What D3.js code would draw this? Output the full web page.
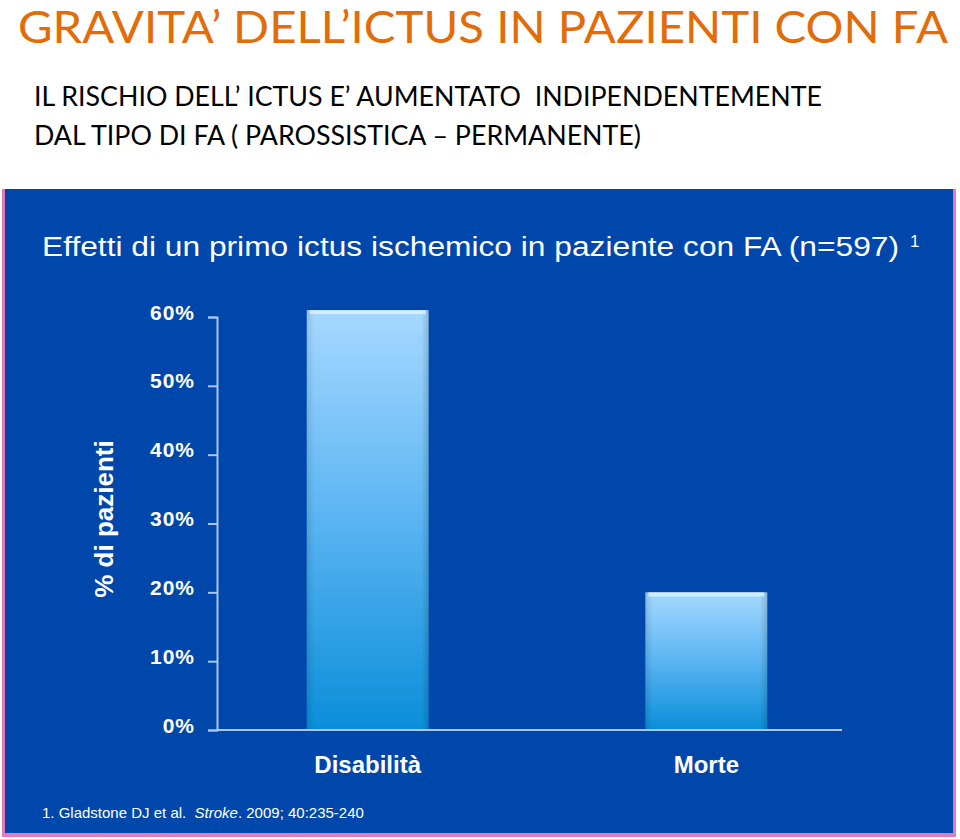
<!DOCTYPE html>
<html>
<head>
<meta charset="utf-8">
<script src="https://cdn.jsdelivr.net/npm/d3@7"></script>
<style>
  html, body { margin: 0; padding: 0; background: #ffffff; }
  svg { display: block; }
</style>
</head>
<body>
<script>
// ---- data ----
const categories = ["Disabilità", "Morte"];
const values = [61, 20];
const yTicks = [0, 10, 20, 30, 40, 50, 60];
const tickLabels = ["0%", "10%", "20%", "30%", "40%", "50%", "60%"];

const W = 960, H = 839;
const svg = d3.select("body").append("svg").attr("width", W).attr("height", H);

// headers
svg.append("text").attr("x", 18).attr("y", 43)
  .attr("textLength", 930).attr("lengthAdjust", "spacingAndGlyphs")
  .style("font-family", "Lato, 'Open Sans', sans-serif").style("font-size", "45px")
  .attr("fill", "#E36C0A").text("GRAVITA\u2019 DELL\u2019ICTUS IN PAZIENTI CON FA");

svg.append("text").attr("x", 34).attr("y", 106)
  .attr("textLength", 788).attr("lengthAdjust", "spacingAndGlyphs")
  .style("font-family", "Lato, 'Open Sans', sans-serif").style("font-size", "27px")
  .attr("fill", "#000").attr("xml:space", "preserve")
  .text("IL RISCHIO DELL\u2019 ICTUS E\u2019 AUMENTATO  INDIPENDENTEMENTE");

svg.append("text").attr("x", 34).attr("y", 145)
  .attr("textLength", 607).attr("lengthAdjust", "spacingAndGlyphs")
  .style("font-family", "Lato, 'Open Sans', sans-serif").style("font-size", "27px")
  .attr("fill", "#000").attr("xml:space", "preserve")
  .text("DAL TIPO DI FA ( PAROSSISTICA \u2013 PERMANENTE)");

// panel with pink border
svg.append("rect").attr("x", 2).attr("y", 189).attr("width", 954).attr("height", 648).attr("fill", "#E47BB8");
svg.append("rect").attr("x", 5).attr("y", 189).attr("width", 948).attr("height", 644).attr("fill", "#0047AB");

// panel title
const t = svg.append("text").attr("x", 42).attr("y", 256)
  .style("font-family", "'Liberation Sans', Arial, sans-serif").style("font-size", "27px")
  .attr("fill", "#ffffff");
t.append("tspan").attr("textLength", 857).attr("lengthAdjust", "spacingAndGlyphs")
  .text("Effetti di un primo ictus ischemico in paziente con FA (n=597)");
svg.append("text").attr("x", 910).attr("y", 247)
  .style("font-family", "'Liberation Sans', Arial, sans-serif").style("font-size", "17px")
  .attr("fill", "#ffffff").text("1");

// scales
const y = d3.scaleLinear().domain([0, 60]).range([730, 317]);
const x = d3.scaleBand().domain(categories).range([239, 835]).paddingInner(0.64).paddingOuter(0.2);

// gradient
const defs = svg.append("defs");
const g = defs.append("linearGradient").attr("id", "barGrad").attr("x1", 0).attr("y1", 0).attr("x2", 0).attr("y2", 1);
g.append("stop").attr("offset", "0%").attr("stop-color", "#A6D8FF");
g.append("stop").attr("offset", "50%").attr("stop-color", "#5AB4F2");
g.append("stop").attr("offset", "100%").attr("stop-color", "#0A8ED9");
const gs = defs.append("linearGradient").attr("id", "sideGrad").attr("x1", 0).attr("y1", 0).attr("x2", 1).attr("y2", 0);
gs.append("stop").attr("offset", "0%").attr("stop-color", "#000").attr("stop-opacity", 0.12);
gs.append("stop").attr("offset", "6%").attr("stop-color", "#000").attr("stop-opacity", 0);
gs.append("stop").attr("offset", "94%").attr("stop-color", "#000").attr("stop-opacity", 0);
gs.append("stop").attr("offset", "100%").attr("stop-color", "#000").attr("stop-opacity", 0.15);

// bars
const bars = svg.append("g");
bars.selectAll("rect.bar").data(categories).join("rect").attr("class", "bar")
  .attr("x", d => x(d)).attr("y", (d, i) => y(values[i]))
  .attr("width", x.bandwidth()).attr("height", (d, i) => y(0) - y(values[i]))
  .attr("fill", "url(#barGrad)");
bars.selectAll("rect.side").data(categories).join("rect").attr("class", "side")
  .attr("x", d => x(d)).attr("y", (d, i) => y(values[i]))
  .attr("width", x.bandwidth()).attr("height", (d, i) => y(0) - y(values[i]))
  .attr("fill", "url(#sideGrad)");
bars.selectAll("rect.hl").data(categories).join("rect").attr("class", "hl")
  .attr("x", d => x(d) + 3).attr("y", (d, i) => y(values[i]))
  .attr("width", x.bandwidth() - 6).attr("height", 4)
  .attr("fill", "#DDF2FF").attr("opacity", 0.8);

// y axis
const yAxis = d3.axisLeft(y).tickValues(yTicks).tickFormat((d, i) => tickLabels[i]).tickSize(9).tickPadding(13);
const ya = svg.append("g").attr("transform", "translate(217,0)").call(yAxis);
ya.select(".domain").attr("stroke", "#A9C6EC").attr("stroke-width", 2);
ya.selectAll(".tick line").attr("stroke", "#A9C6EC").attr("stroke-width", 2);
ya.selectAll(".tick text").attr("fill", "#ffffff")
  .style("font-family", "'Liberation Sans', Arial, sans-serif").style("font-size", "21px").style("font-weight", "bold")
  .style("letter-spacing", "1px").attr("dy", "0.1em");

// x axis line spanning full plot width
svg.append("line").attr("x1", 217).attr("x2", 842).attr("y1", y(0)).attr("y2", y(0))
  .attr("stroke", "#A9C6EC").attr("stroke-width", 2);
const xAxis = d3.axisBottom(x).tickSize(0).tickPadding(26);
const xa = svg.append("g").attr("transform", `translate(0,${y(0)})`).call(xAxis);
xa.select(".domain").remove();
xa.selectAll(".tick text").attr("fill", "#ffffff")
  .style("font-family", "'Liberation Sans', Arial, sans-serif").style("font-size", "24px").style("font-weight", "bold");

// y axis title
svg.append("text").attr("transform", "translate(113,519) rotate(-90)").attr("text-anchor", "middle")
  .style("font-family", "'Liberation Sans', Arial, sans-serif").style("font-size", "26px").style("font-weight", "bold")
  .attr("fill", "#ffffff").text("% di pazienti");

// footnote
const fn = svg.append("text").attr("x", 42).attr("y", 818)
  .style("font-family", "'Liberation Sans', Arial, sans-serif").style("font-size", "15px")
  .attr("fill", "#ffffff").attr("xml:space", "preserve");
fn.append("tspan").text("1. Gladstone DJ et al.  ");
fn.append("tspan").style("font-style", "italic").text("Stroke");
fn.append("tspan").text(". 2009; 40:235-240");
</script>
</body>
</html>
